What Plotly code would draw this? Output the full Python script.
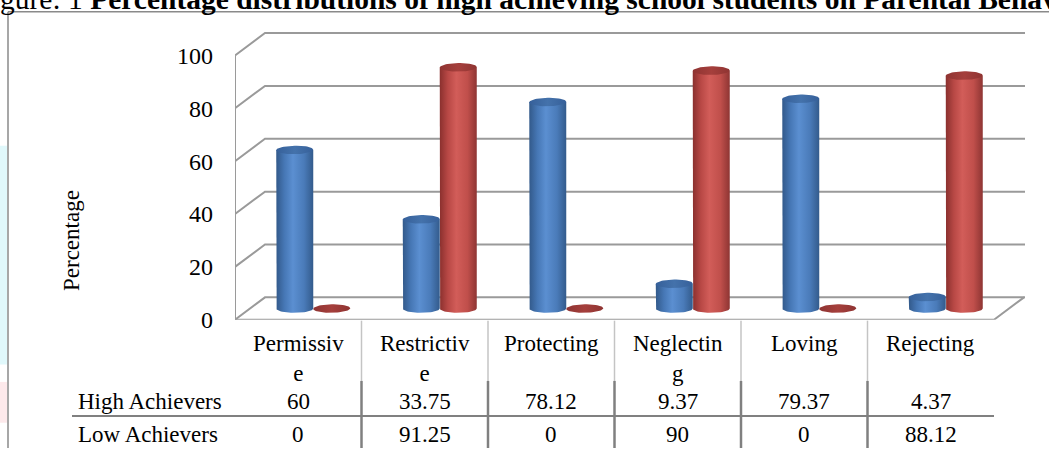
import numpy as np
import plotly.graph_objects as go

# ---------------- data ----------------
categories = ["Permissive", "Restrictive", "Protecting", "Neglecting", "Loving", "Rejecting"]
header_labels = ["Permissiv<br>e", "Restrictiv<br>e", "Protecting", "Neglectin<br>g", "Loving", "Rejecting"]
series_names = ["High Achievers", "Low Achievers"]
high = [60, 33.75, 78.12, 9.37, 79.37, 4.37]
low = [0, 91.25, 0, 90, 0, 88.12]
high_labels = ["60", "33.75", "78.12", "9.37", "79.37", "4.37"]
low_labels = ["0", "91.25", "0", "90", "0", "88.12"]
y_ticks = [0, 20, 40, 60, 80, 100]
title_plain = "gure: 1 "
title_bold = "Percentage distributions of high achieving school students on Parental Behav"
y_title = "Percentage"

# ---------------- geometry (pixels -> data units) ----------------
W, H = 1049, 461
PX_X0, PX_X1 = 235, 1025       # plot area left / right (px)
CAT_PX = 126.5                 # pixel width of one category
PX_Y0, PX_YTOP = 329, 33       # front zero line / top of plot area (px)
PX_PER_UNIT = 2.72             # pixels per percentage point
X_MAX = (PX_X1 - PX_X0) / CAT_PX
Y_MAX = (PX_Y0 - PX_YTOP) / PX_PER_UNIT
DX = 30 / CAT_PX               # depth offset (x)
DY = 23 / PX_PER_UNIT          # depth offset (y)
BAR_W = 37 / CAT_PX
ELL_B = 4.4 / PX_PER_UNIT
N = len(categories)
FONT = "Liberation Serif, Times New Roman, serif"

def py(p):  # pixel y -> paper y
    return (H - p) / H

def px(p):  # pixel x -> paper x
    return p / W

fig = go.Figure()

grid_col = "#9a9a9a"
# back wall gridlines + left wall diagonals
for v in y_ticks:
    fig.add_trace(go.Scatter(x=[0, DX, X_MAX], y=[v, v + DY, v + DY], mode="lines",
                             line=dict(color=grid_col, width=2), hoverinfo="skip", showlegend=False))
# left wall vertical edge
fig.add_trace(go.Scatter(x=[0, 0], y=[0, y_ticks[-1]], mode="lines",
                         line=dict(color=grid_col, width=2), hoverinfo="skip", showlegend=False))
# floor front edge and right diagonal
fig.add_trace(go.Scatter(x=[0, N, N + DX], y=[0, 0, DY], mode="lines",
                         line=dict(color=grid_col, width=2), hoverinfo="skip", showlegend=False))

styles = [
    dict(body=[[0, "#32598a"], [0.22, "#4677b5"], [0.45, "#5b8fd1"], [0.75, "#4a7bb9"], [1, "#335b8c"]],
         top=[[0, "#36609a"], [0.5, "#4472ab"], [1, "#36609a"]]),
    dict(body=[[0, "#8a302e"], [0.22, "#b84845"], [0.45, "#d25d59"], [0.75, "#c04f4b"], [1, "#8e3533"]],
         top=[[0, "#8f3432"], [0.5, "#a53f3c"], [1, "#8f3432"]]),
]

t_full = np.linspace(0, 2 * np.pi, 61)
t_bot = np.linspace(np.pi, 2 * np.pi, 31)
base = DY / 2

for i in range(N):
    c = i + 0.5 + DX / 2
    for s, vals in enumerate([high, low]):
        v = vals[i]
        xl = c - BAR_W if s == 0 else c
        xr = xl + BAR_W
        cx = (xl + xr) / 2
        a = BAR_W / 2
        top = base + v
        st = styles[s]
        if v > 0:
            bx = [xl, xl] + list(cx + a * np.cos(t_bot)) + [xr, xr]
            by = [top, base] + list(base + ELL_B * np.sin(t_bot)) + [base, top]
            fig.add_trace(go.Scatter(x=bx, y=by, mode="lines", fill="toself", line=dict(width=0),
                                     fillgradient=dict(type="horizontal", colorscale=st["body"]),
                                     hoverinfo="skip", showlegend=False))
        ex = cx + a * np.cos(t_full)
        ey = top + ELL_B * np.sin(t_full) + 0.06 * (ex - cx) / a * ELL_B
        fig.add_trace(go.Scatter(x=ex, y=ey, mode="lines", fill="toself", line=dict(width=0),
                                 fillgradient=dict(type="horizontal", colorscale=st["top"]),
                                 hoverinfo="skip", showlegend=False))

shapes = []
# table: header separators (light) and data separators (dark)
for i in range(1, N):
    shapes.append(dict(type="line", xref="x", yref="paper", x0=i, x1=i, y0=py(330), y1=py(392),
                       line=dict(color="#c4c4c4", width=1.5)))
    shapes.append(dict(type="line", xref="x", yref="paper", x0=i, x1=i, y0=py(392), y1=py(461),
                       line=dict(color="#808080", width=2.5)))
shapes.append(dict(type="line", xref="paper", yref="paper", x0=px(72), x1=px(PX_X0 + N * CAT_PX),
                   y0=py(428), y1=py(428), line=dict(color="#808080", width=2)))
# outer frame
shapes.append(dict(type="line", xref="paper", yref="paper", x0=px(8), x1=px(8), y0=py(12), y1=0,
                   line=dict(color="#8a8a8a", width=1.5)))
shapes.append(dict(type="line", xref="paper", yref="paper", x0=px(8), x1=1, y0=py(12), y1=py(12),
                   line=dict(color="#8a8a8a", width=1.5)))
# faint colour bleeding at the left edge
shapes.append(dict(type="rect", xref="paper", yref="paper", x0=0, x1=px(7), y0=py(375), y1=py(150),
                   line=dict(width=0), fillcolor="#e0f8fb", layer="below"))
shapes.append(dict(type="rect", xref="paper", yref="paper", x0=0, x1=px(7), y0=py(435), y1=py(393),
                   line=dict(width=0), fillcolor="#fde9eb", layer="below"))

annotations = []
tf = dict(family=FONT, size=23, color="black")
for i in range(N):
    annotations.append(dict(x=i + 0.5, y=py(339), xref="x", yref="paper", text=header_labels[i],
                            showarrow=False, font=dict(tf), xanchor="center", yanchor="top", align="center"))
    annotations.append(dict(x=i + 0.5, y=py(413), xref="x", yref="paper", text=high_labels[i],
                            showarrow=False, font=dict(tf), xanchor="center", yanchor="middle"))
    annotations.append(dict(x=i + 0.5, y=py(447), xref="x", yref="paper", text=low_labels[i],
                            showarrow=False, font=dict(tf), xanchor="center", yanchor="middle"))
annotations.append(dict(x=px(76), y=py(413), xref="paper", yref="paper", text=series_names[0],
                        showarrow=False, font=dict(tf), xanchor="left", yanchor="middle"))
annotations.append(dict(x=px(76), y=py(447), xref="paper", yref="paper", text=series_names[1],
                        showarrow=False, font=dict(tf), xanchor="left", yanchor="middle"))
annotations.append(dict(x=px(71), y=py(248), xref="paper", yref="paper", text=y_title, textangle=-90,
                        showarrow=False, font=dict(family=FONT, size=23, color="black"),
                        xanchor="center", yanchor="middle"))
annotations.append(dict(x=px(-2), y=py(-1), xref="paper", yref="paper",
                        text=title_plain + "<b>" + title_bold + "</b>",
                        showarrow=False, font=dict(family=FONT, size=29.5, color="black"),
                        xanchor="left", yanchor="middle"))

fig.update_layout(
    width=W, height=H,
    margin=dict(l=0, r=0, t=0, b=0),
    paper_bgcolor="white", plot_bgcolor="rgba(0,0,0,0)",
    showlegend=False,
    xaxis=dict(domain=[px(PX_X0), px(PX_X1)], range=[0, X_MAX], showgrid=False, zeroline=False,
               showticklabels=False, showline=False, ticks="", fixedrange=True),
    yaxis=dict(domain=[py(PX_Y0), py(PX_YTOP)], range=[0, Y_MAX], showgrid=False, zeroline=False,
               showline=False, ticks="", tickvals=y_ticks, ticktext=[str(t) for t in y_ticks],
               ticklabelstandoff=21, tickfont=dict(family=FONT, size=24, color="black"), fixedrange=True),
    shapes=shapes, annotations=annotations,
)

fig.write_html("out.html", config={"displayModeBar": False},
               post_script="document.body.style.margin='0';document.body.style.overflow='hidden';")
